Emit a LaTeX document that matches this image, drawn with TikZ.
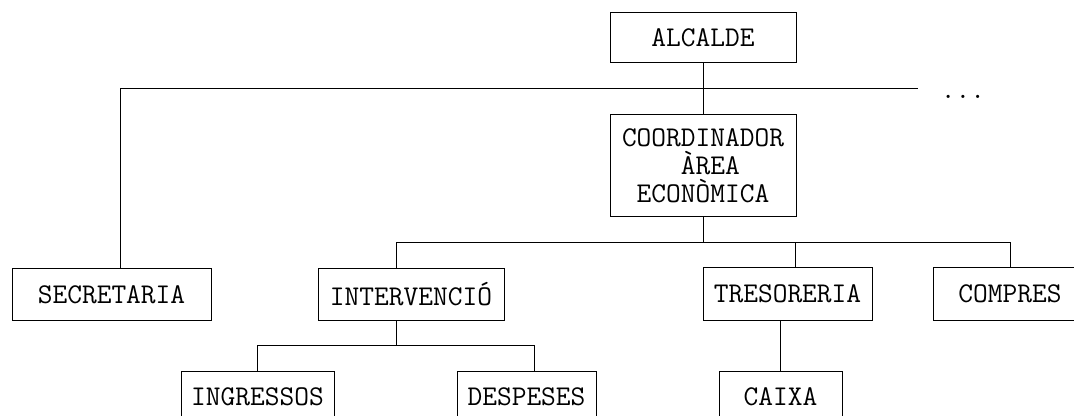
\documentclass[tikz,border=0pt]{standalone}
\usepackage{fontspec}
\usetikzlibrary{positioning}
\begin{document}
\begin{tikzpicture}[x=0.5pt, y=-0.5pt,
    unitbox/.style={draw, line width=0.5pt, inner sep=0pt, align=center, font=\ttfamily\fontsize{14.3}{14}\selectfont},
    link/.style={line width=0.5pt}]
  \useasboundingbox (0,0) rectangle (1074,416);
  % top of the organisation
  \node [unitbox, minimum width=93pt, minimum height=25pt] (alcalde) at (703,38) {ALCALDE};
  \node [unitbox, minimum width=93pt, minimum height=51pt] (coord) at (703,166) {COORDINADOR\\~ÀREA\\ECONÒMICA};
  \node [font=\ttfamily\fontsize{14.3}{14}\selectfont, anchor=base, inner sep=0pt] (more) at (963,99) {...};
  % second level
  \node [unitbox, minimum width=99.5pt, minimum height=25.5pt] (secretaria) at (111.5,294.5) {SECRETARIA};
  \node [unitbox, minimum width=93pt, minimum height=25.5pt] (intervencio) at (411,294.5) {INTERVENCIÓ};
  \node [unitbox, minimum width=84.5pt, minimum height=26pt] (tresoreria) at (787.5,294) {TRESORERIA};
  \node [unitbox, minimum width=77pt, minimum height=26pt] (compres) at (1010,294) {COMPRES};
  % third level
  \node [unitbox, minimum width=76.5pt, minimum height=26pt] (ingressos) at (257.5,397) {INGRESSOS};
  \node [unitbox, minimum width=69.5pt, minimum height=26pt] (despeses) at (526.5,397) {DESPESES};
  \node [unitbox, minimum width=61.5pt, minimum height=26pt] (caixa) at (780.5,397) {CAIXA};
  % bus lines
  \coordinate (topbus west) at (120,89);
  \coordinate (topbus east) at (918,89);
  \coordinate (areabus) at (703,243);
  \coordinate (areabus west) at (396,243);
  \coordinate (areabus east) at (1010,243);
  \coordinate (tresbus) at (795,243);
  \coordinate (intbus) at (396,345);
  \coordinate (intbus west) at (257,345);
  \coordinate (intbus east) at (534,345);
  \draw [link] (alcalde.south) -- (coord.north);
  \draw [link] (secretaria.north -| topbus west) -- (topbus west) -- (topbus east);
  \draw [link] (coord.south) -- (areabus);
  \draw [link] (intervencio.north -| areabus west) -- (areabus west) -- (areabus east) -- (compres.north -| areabus east);
  \draw [link] (tresbus) -- (tresoreria.north -| tresbus);
  \draw [link] (intervencio.south -| intbus) -- (intbus);
  \draw [link] (ingressos.north -| intbus west) -- (intbus west) -- (intbus east) -- (despeses.north -| intbus east);
  \draw [link] (caixa.north) -- (caixa.north |- tresoreria.south);
\end{tikzpicture}
\end{document}
